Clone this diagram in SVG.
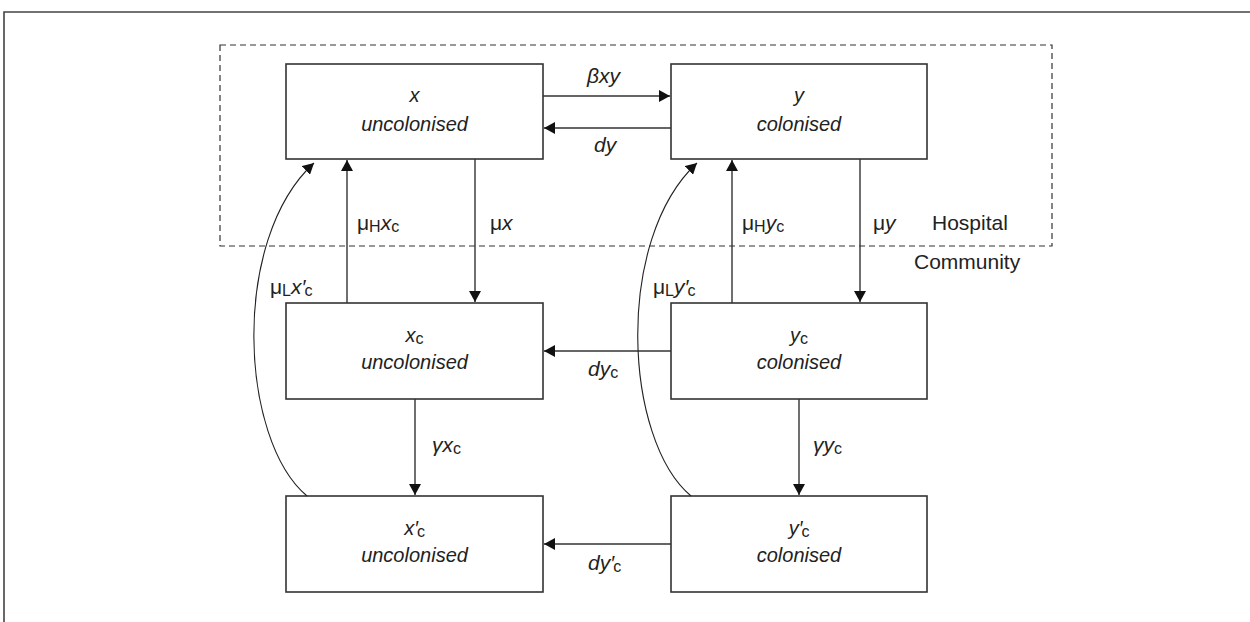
<svg xmlns="http://www.w3.org/2000/svg" width="1250" height="622" viewBox="0 0 1250 622">
<style>
  .frame{fill:none;stroke:#444;stroke-width:1.6}
  .zone{fill:none;stroke:#333;stroke-width:1.2;stroke-dasharray:6 4}
  .box{fill:#fff;stroke:#333;stroke-width:1.6}
  .edge{fill:none;stroke:#333;stroke-width:1.4;marker-end:url(#ah)}
  .curve{fill:none;stroke:#222;stroke-width:1.1;marker-end:url(#ah)}
  text{font-family:"Liberation Sans",Arial,sans-serif;fill:#222}
  .nt{font-size:20px;font-style:italic;text-anchor:middle}
  .lb{font-size:21px}
  .it{font-style:italic}
  .sub{font-size:16px;font-style:normal}
</style>
<defs>
  <marker id="ah" markerUnits="userSpaceOnUse" markerWidth="12" markerHeight="12" refX="11" refY="6" orient="auto">
    <path d="M0,0 L11,6 L0,12 z" fill="#111"/>
  </marker>
</defs>
<path class="frame" d="M1252,12 H4 V624"/>
<g id="hospital-zone">
  <rect class="zone" x="220" y="45" width="832" height="201"/>
  <text class="lb" x="932" y="230">Hospital</text>
  <text class="lb" x="914" y="269">Community</text>
</g>
<g id="node-x">
  <rect class="box" x="286" y="64" width="257" height="95"/>
  <text class="nt" x="414.5" y="102">x</text>
  <text class="nt" x="414.5" y="131">uncolonised</text>
</g>
<g id="node-y">
  <rect class="box" x="671" y="64" width="256" height="95"/>
  <text class="nt" x="799" y="102">y</text>
  <text class="nt" x="799" y="131">colonised</text>
</g>
<g id="node-xc">
  <rect class="box" x="286" y="303" width="257" height="96"/>
  <text class="nt" x="414.5" y="342">x<tspan class="sub" dy="2">c</tspan></text>
  <text class="nt" x="414.5" y="369">uncolonised</text>
</g>
<g id="node-yc">
  <rect class="box" x="671" y="303" width="256" height="96"/>
  <text class="nt" x="799" y="342">y<tspan class="sub" dy="2">c</tspan></text>
  <text class="nt" x="799" y="369">colonised</text>
</g>
<g id="node-xcp">
  <rect class="box" x="286" y="496" width="257" height="96"/>
  <text class="nt" x="414.5" y="535">x′<tspan class="sub" dx="-1" dy="2">c</tspan></text>
  <text class="nt" x="414.5" y="562">uncolonised</text>
</g>
<g id="node-ycp">
  <rect class="box" x="671" y="496" width="256" height="96"/>
  <text class="nt" x="799" y="535">y′<tspan class="sub" dx="-1" dy="2">c</tspan></text>
  <text class="nt" x="799" y="562">colonised</text>
</g>
<g id="connectors">
  <path class="edge" d="M543,96 H670"/>
  <path class="edge" d="M671,128 H544"/>
  <path class="edge" d="M475,159 V302"/>
  <path class="edge" d="M347,303 V160"/>
  <path class="edge" d="M860,159 V302"/>
  <path class="edge" d="M732,303 V160"/>
  <path class="edge" d="M671,351 H544"/>
  <path class="edge" d="M671,544 H544"/>
  <path class="edge" d="M415,399 V495"/>
  <path class="edge" d="M799,399 V495"/>
  <path class="curve" d="M307,496 C240,440 230,240 314,163"/>
  <path class="curve" d="M691,496 C624,440 614,240 697,163"/>
  <text class="lb it" x="587" y="83">βxy</text>
  <text class="lb it" x="594" y="152">dy</text>
  <text class="lb" x="357" y="230">μ<tspan class="sub" dy="2">H</tspan><tspan class="it" dy="-2">x</tspan><tspan class="sub" dy="2">c</tspan></text>
  <text class="lb" x="490" y="230">μ<tspan class="it">x</tspan></text>
  <text class="lb" x="742" y="230">μ<tspan class="sub" dy="2">H</tspan><tspan class="it" dy="-2">y</tspan><tspan class="sub" dy="2">c</tspan></text>
  <text class="lb" x="873" y="230">μ<tspan class="it">y</tspan></text>
  <text class="lb" x="270" y="294">μ<tspan class="sub" dy="2">L</tspan><tspan class="it" dy="-2">x′</tspan><tspan class="sub" dx="-1" dy="2">c</tspan></text>
  <text class="lb" x="653" y="294">μ<tspan class="sub" dy="2">L</tspan><tspan class="it" dy="-2">y′</tspan><tspan class="sub" dx="-1" dy="2">c</tspan></text>
  <text class="lb it" x="588" y="376">dy<tspan class="sub" dy="2">c</tspan></text>
  <text class="lb" x="432" y="452"><tspan class="it">γx</tspan><tspan class="sub" dy="2">c</tspan></text>
  <text class="lb" x="813" y="452"><tspan class="it">γy</tspan><tspan class="sub" dy="2">c</tspan></text>
  <text class="lb it" x="588" y="570">dy′<tspan class="sub" dx="-1" dy="2">c</tspan></text>
</g>
</svg>
